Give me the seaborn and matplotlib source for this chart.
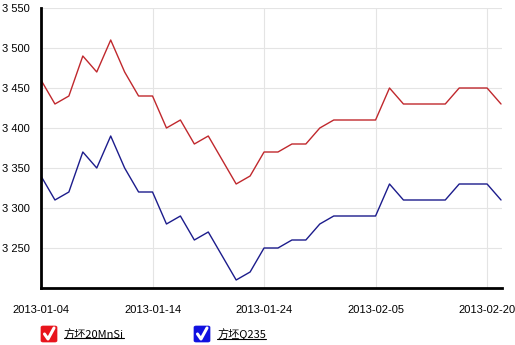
import numpy as np
import pandas as pd
import matplotlib
matplotlib.use("Agg")
import matplotlib.pyplot as plt
import seaborn as sns
from matplotlib.patches import FancyBboxPatch
from matplotlib.lines import Line2D

series_names = ["方坯20MnSi", "方坯Q235"]
red_values = [3460, 3430, 3440, 3490, 3470, 3510, 3470, 3440, 3440, 3400, 3410, 3380,
              3390, 3360, 3330, 3340, 3370, 3370, 3380, 3380, 3400, 3410, 3410, 3410,
              3410, 3450, 3430, 3430, 3430, 3430, 3450, 3450, 3450, 3430]
blue_values = [3340, 3310, 3320, 3370, 3350, 3390, 3350, 3320, 3320, 3280, 3290, 3260,
               3270, 3240, 3210, 3220, 3250, 3250, 3260, 3260, 3280, 3290, 3290, 3290,
               3290, 3330, 3310, 3310, 3310, 3310, 3330, 3330, 3330, 3310]
tick_positions = [0, 8, 16, 24, 32]
tick_labels = ["2013-01-04", "2013-01-14", "2013-01-24", "2013-02-05", "2013-02-20"]
y_ticks = [3250, 3300, 3350, 3400, 3450, 3500, 3550]
colors = ["#c0282d", "#1c1c8c"]
box_colors = ["#e8141c", "#1010e0"]

n = len(red_values)
df = pd.DataFrame({
    "idx": list(range(n)) * 2,
    "value": red_values + blue_values,
    "series": [series_names[0]] * n + [series_names[1]] * n,
})

sns.set_style("white")
plt.rcParams['font.family'] = ['Liberation Sans', 'Noto Sans CJK SC', 'DejaVu Sans']

W, H = 515, 345
fig = plt.figure(figsize=(W / 100, H / 100), dpi=100)
ax = fig.add_axes([41 / W, 1 - 288 / H, (502 - 41) / W, (288 - 8) / H])

sns.lineplot(data=df, x="idx", y="value", hue="series", palette=colors,
             linewidth=1.0, legend=False, ax=ax)

ax.set_xlim(0, 33.07)
ax.set_ylim(3200, 3550)
ax.set_xticks(tick_positions)
ax.set_xticklabels(tick_labels, fontsize=8)
ax.set_yticks(y_ticks)
ax.set_yticklabels([f"{v:,}".replace(",", " ") for v in y_ticks], fontsize=8)
ax.set_xlabel("")
ax.set_ylabel("")
ax.grid(True, color="#e4e4e4", linewidth=0.8)
for s in ["top", "right"]:
    ax.spines[s].set_visible(False)
for s in ["left", "bottom"]:
    ax.spines[s].set_color("black")
    ax.spines[s].set_linewidth(2.0)
ax.tick_params(axis="both", which="both", length=6, width=1, color="black",
               direction="out", labelcolor="black", pad=2)
ax.tick_params(axis="x", pad=6)

# custom legend with checkboxes
def checkbox(x0, color, label):
    bx = x0 / W
    by = 1 - 342 / H
    bw = 16 / W
    bh = 16 / H
    fig.patches.append(FancyBboxPatch((bx, by), bw, bh, boxstyle="round,pad=0,rounding_size=0.004",
                                      transform=fig.transFigure, facecolor=color,
                                      edgecolor=color, linewidth=0.5))
    xs = [x0 + 3.5, x0 + 7, x0 + 13]
    ys = [334, 339, 328]
    fig.lines.append(Line2D([x / W for x in xs], [1 - y / H for y in ys],
                            transform=fig.transFigure, color="white", linewidth=2.2,
                            solid_capstyle="round", solid_joinstyle="round"))
    t = fig.text((x0 + 23) / W, 1 - 334 / H, label, fontsize=8, va="center", ha="left",
                 family=['Noto Sans CJK SC', 'DejaVu Sans'], color="black")
    fig.canvas.draw()
    bb = t.get_window_extent()
    fig.lines.append(Line2D([bb.x0 / (W), bb.x1 / (W)], [(bb.y0 + 1) / H, (bb.y0 + 1) / H],
                            transform=fig.transFigure, color="black", linewidth=0.8))

checkbox(41, box_colors[0], series_names[0])
checkbox(194, box_colors[1], series_names[1])

fig.savefig("out.png", dpi=100)
